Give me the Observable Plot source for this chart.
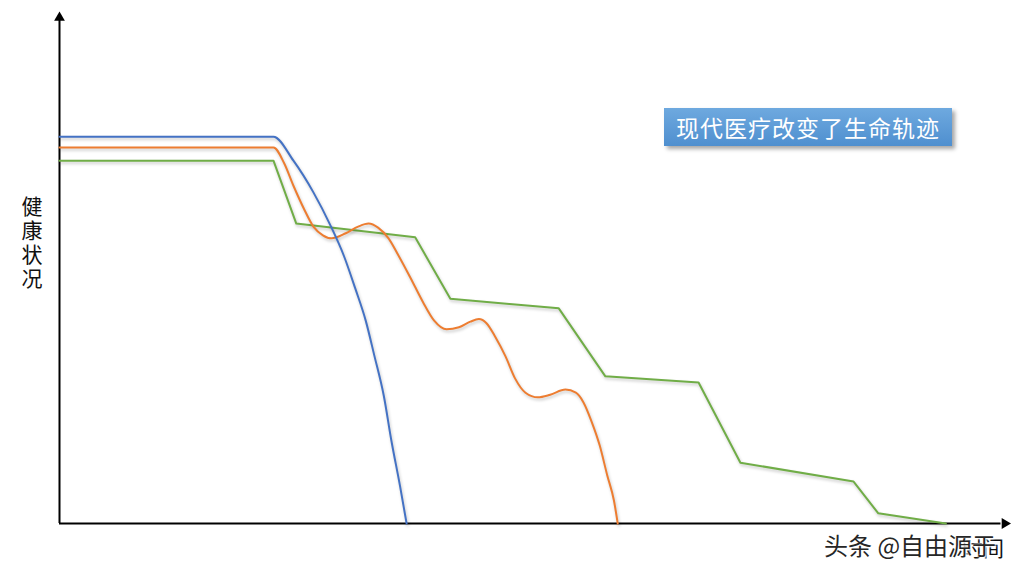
<!DOCTYPE html>
<html>
<head>
<meta charset="utf-8">
<script src="https://cdn.jsdelivr.net/npm/d3@7"></script>
<script src="https://cdn.jsdelivr.net/npm/@observablehq/plot@0.6"></script>
<style>
  html, body { margin: 0; padding: 0; background: #fff; }
  #wrap { position: relative; width: 1031px; height: 573px; overflow: hidden; font-family: "Noto Sans CJK SC", "Noto Sans", sans-serif; }
  #wrap svg { position: absolute; left: 0; top: 0; }
  #wrap svg g[aria-label="line"] path { filter: drop-shadow(1px 2px 1.5px rgba(0,0,0,0.22)); }
  #title { position: absolute; left: 664px; top: 108px; width: 288px; height: 38px;
    background: linear-gradient(#6ea9df, #4f8fcf); color: #fff; font-size: 23px; line-height: 38px;
    text-align: center; box-shadow: 3px 3px 4px rgba(0,0,0,0.35); letter-spacing: 1px; }
  #ylabel { position: absolute; left: 20px; top: 196px; font-size: 21px; line-height: 24px; color: #111;
    writing-mode: vertical-rl; text-orientation: upright; letter-spacing: 3px; }
  #xlabel { position: absolute; left: 962px; top: 532px; font-size: 21px; color: #111; }
  #wm { position: absolute; left: 824px; top: 527px; font-size: 24px; color: #262626;
    text-shadow: 0 0 2px #fff, 0 0 3px #fff, 1px 1px 2px #fff; }
</style>
</head>
<body>
<div id="wrap">
  <div id="ylabel">健康状况</div>
  <div id="xlabel">时间</div>
  <div id="wm">头条 @自由源于</div>
  <div id="title">现代医疗改变了生命轨迹</div>
</div>
<script>
// Time (0-100) and health (0-100)
const blueTime   = [0, 22.5, 24.6, 26.7, 28.5, 29.9, 31.1, 32.2, 33.1, 34.1, 34.9, 35.8, 36.5];
const blueHealth = [75.7, 75.7, 71.0, 64.8, 58.3, 52.4, 46.0, 39.7, 32.9, 25.0, 16.2, 7.4, 0];

const orangeTime   = [0, 22.5, 23.6, 24.6, 25.7, 26.7, 27.7, 28.6, 30.1, 31.4, 32.5, 33.5, 34.6, 35.6, 36.9, 38.2, 39.4, 40.7, 42.0, 43.2, 44.1, 44.9, 45.8, 46.9, 47.9, 49.0, 50.3, 51.6, 53.2, 54.3, 55.1, 55.9, 56.8, 57.6, 58.3, 58.7];
const orangeHealth = [73.6, 73.6, 70.6, 66.1, 61.6, 58.1, 56.4, 55.8, 56.8, 58.1, 58.7, 57.9, 55.8, 52.6, 48.1, 43.4, 39.7, 38.0, 38.4, 39.5, 40.0, 39.2, 36.6, 32.7, 28.4, 25.6, 24.7, 25.2, 26.2, 25.6, 23.7, 20.2, 15.3, 9.4, 4.5, 0];

const greenTime   = [0, 22.5, 24.9, 37.4, 41.1, 52.5, 57.4, 67.2, 71.6, 83.5, 86.1, 93.2];
const greenHealth = [71.0, 71.0, 58.7, 56.0, 44.0, 42.1, 28.8, 27.6, 11.9, 8.2, 2.0, 0];

const zip = (xs, ys) => xs.map((x, i) => ({x, y: ys[i]}));
const blue = zip(blueTime, blueHealth);
const orange = zip(orangeTime, orangeHealth);
const green = zip(greenTime, greenHealth);

const chart = Plot.plot({
  width: 1031,
  height: 573,
  marginLeft: 59,
  marginRight: 21,
  marginTop: 12,
  marginBottom: 50,
  x: {domain: [0, 100], axis: null},
  y: {domain: [0, 100], axis: null},
  marks: [
    Plot.ruleX([0], {y1: 0, y2: 98.5, stroke: "#000", strokeWidth: 2}),
    Plot.ruleY([0], {x1: 0, x2: 99, stroke: "#000", strokeWidth: 2}),
    Plot.dot([{x: 0, y: 99}], {x: "x", y: "y", symbol: "triangle", r: 4, fill: "#000", stroke: null}),
    Plot.dot([{x: 99.4, y: 0}], {x: "x", y: "y", symbol: "triangle", r: 4, fill: "#000", stroke: null, rotate: 90}),
    Plot.line(green, {x: "x", y: "y", stroke: "#70ad47", strokeWidth: 2, curve: "linear"}),
    Plot.line(orange, {x: "x", y: "y", stroke: "#ed7d31", strokeWidth: 2, curve: "monotone-x"}),
    Plot.line(blue, {x: "x", y: "y", stroke: "#4472c4", strokeWidth: 2, curve: "monotone-x"})
  ]
});
document.getElementById("wrap").prepend(chart);
</script>
</body>
</html>
